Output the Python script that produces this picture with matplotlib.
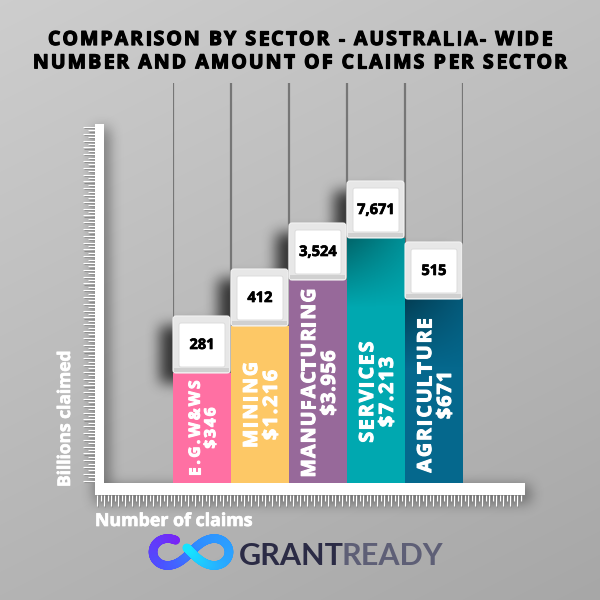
import numpy as np
import matplotlib.pyplot as plt
import matplotlib.patheffects as pe
from matplotlib.patches import FancyBboxPatch, Rectangle
from matplotlib.collections import LineCollection
from matplotlib.textpath import TextToPath
from matplotlib.font_manager import FontProperties
from matplotlib.colors import LinearSegmentedColormap

sectors = ['E.G.W&WS', 'MINING', 'MANUFACTURING', 'SERVICES', 'AGRICULTURE']
amounts = ['$346', '$1.216', '$3.956', '$7.213', '$671']
claims = [281, 412, 3524, 7671, 515]
# the bars are not to scale with the numbers, so keep the drawn height (px)
drawn_height = [110, 157, 203, 245, 184]
bar_colors = ['#ff70a3', '#fdc866', '#97699a', '#00a8b0', '#05688d']

title_lines = ['COMPARISON BY SECTOR - AUSTRALIA- WIDE',
               'NUMBER AND AMOUNT OF CLAIMS PER SECTOR']
y_label = 'Billions claimed'
x_label = 'Number of claims'

DPI = 100
W = H = 600
CAP = 57          # white key on top of every bar
AXIS_Y = 483      # top of the horizontal ruler

fig = plt.figure(figsize=(W / DPI, H / DPI), dpi=DPI)
ax = fig.add_axes([0, 0, 1, 1])
bx = fig.add_axes([173 / W, (H - AXIS_Y) / H, 290 / W, 400 / H])
bx.set_xlim(-0.5, 4.5)
bx.set_ylim(0, 400)
bx.axis('off')

# background, light grey fading darker to the bottom right
yy, xx = np.mgrid[0:H, 0:W] / H
bg = 0.805 - 0.10 * yy - 0.05 * xx
ax.imshow(np.dstack([bg] * 3), extent=(0, W, H, 0), aspect='auto', zorder=0)
ax.set_xlim(0, W)
ax.set_ylim(H, 0)
ax.axis('off')


def to_ax(xd, yd):
    return ax.transData.inverted().transform(bx.transData.transform((xd, yd)))


# ---- letter spaced text
ttp = TextToPath()


def ink_w(ch, fp):
    if ch == ' ':
        return 0.26 * fp.get_size_in_points() * DPI / 72
    return ttp.get_text_width_height_descent(ch, fp, ismath=False)[0] * DPI / 72


def spaced(target, x, y, s, size, gap=0, width=None, rot=0, color='k',
           family='Open Sans', weight='bold', z=10, stroke=0.6):
    fp = FontProperties(family=family, weight=weight, size=size)
    ws = [ink_w(c, fp) for c in s]
    if width is not None:
        gap = (width - sum(ws)) / (len(s) - 1)
    total = sum(ws) + gap * (len(s) - 1)
    pos = -total / 2
    a = np.deg2rad(rot)
    fx = [pe.withStroke(linewidth=stroke, foreground=color)]
    for c, w in zip(s, ws):
        m = pos + w / 2
        if c != ' ':
            target.text(x + m * np.cos(a), y - m * np.sin(a), c, fontproperties=fp,
                        rotation=rot, rotation_mode='anchor', ha='center',
                        va='baseline', color=color, zorder=z, path_effects=fx,
                        transform=ax.transData, clip_on=False)
        pos += w + gap


# ---- cap boxes in full-figure pixel coords
caps = []
for i, h in enumerate(drawn_height):
    x0, ybot = to_ax(i - 0.5, h)
    x1, ytop = to_ax(i + 0.5, h + CAP)
    caps.append((x0, ytop, x1 - 1, ybot))

# soft shadows of the caps and rulers
mask = np.zeros((H, W))


def add_sh(x0, y0, x1, y1, dx, dy, v=1.0):
    r0, r1 = int(round(y0 + dy)), int(round(y1 + dy))
    c0, c1 = int(round(x0 + dx)), int(round(x1 + dx))
    mask[max(r0, 0):r1, max(c0, 0):c1] = np.maximum(mask[max(r0, 0):r1, max(c0, 0):c1], v)


def box_blur(a, r):
    k = 2 * r + 1
    p = np.pad(a, r, mode='edge')
    c = np.vstack([np.zeros((1, p.shape[1])), np.cumsum(p, axis=0)])
    a = (c[k:] - c[:-k]) / k
    c = np.hstack([np.zeros((a.shape[0], 1)), np.cumsum(a, axis=1)])
    return (c[:, k:] - c[:, :-k]) / k


for (x0, y0, x1, y1) in caps:
    add_sh(x0, y0, x1, y1, -13, 10)
add_sh(92, 124, 106, 497, 3, 4, 0.6)
add_sh(92, 481, 527, 497, 3, 5, 0.6)
sh = mask
for _ in range(3):
    sh = box_blur(sh, 6)
shadow = np.zeros((H, W, 4))
shadow[..., 3] = 0.72 * sh
ax.imshow(shadow, extent=(0, W, H, 0), aspect='auto', zorder=1)
ax.set_xlim(0, W)
ax.set_ylim(H, 0)

# ---- title
spaced(ax, 300, 45, title_lines[0], 14, width=504, stroke=0.9)
spaced(ax, 300, 68.3, title_lines[1], 14, width=534, stroke=0.9)

# ---- rulers
ax.add_patch(Rectangle((95, 124), 9, 371, fc='white', ec='none', zorder=4))
ax.add_patch(Rectangle((95, 483), 430, 12, fc='white', ec='none', zorder=4))
ty = np.arange(127, 481, 3.4)
tl = np.where(np.arange(len(ty)) % 2 == 0, 83, 88)
ax.hlines(ty + 1.2, tl + 1.2, 95, color='#8d8d8d', lw=0.8, zorder=3)
ax.hlines(ty, tl, 95, color='white', lw=0.8, zorder=4)
tx = np.arange(97, 523, 3.5)
tb = np.where(np.arange(len(tx)) % 2 == 0, 506, 501)
ax.vlines(tx + 1.2, 495, tb + 1.2, color='#8d8d8d', lw=0.8, zorder=3)
ax.vlines(tx, 495, tb, color='white', lw=0.8, zorder=4)

ax.text(70, 487, y_label, rotation=90, rotation_mode='anchor', ha='left',
        va='baseline', color='white', fontsize=12.5, fontweight='bold',
        family='Open Sans', zorder=5,
        path_effects=[pe.withStroke(linewidth=0.5, foreground='white')])
ax.text(95, 526, x_label, ha='left', va='baseline', color='white',
        fontsize=12.8, fontweight='bold', family='Open Sans', zorder=5,
        path_effects=[pe.withStroke(linewidth=0.5, foreground='white')])

# ---- bars
bx.vlines(np.arange(6) - 0.5, 0, 400, color='#767676', lw=1.6, zorder=1)
bx.bar(range(len(sectors)), drawn_height, width=1.0, color=bar_colors, zorder=2)

# darker sheen at the top of the two right bars
for i in (3, 4):
    g = np.linspace(1, 0, 70)[:, None] * np.linspace(1, 0.35, 40)[None, :]
    sheen = np.zeros((70, 40, 4))
    sheen[..., 3] = 0.4 * g
    bx.imshow(sheen, extent=(i - 0.5, i + 0.5, drawn_height[i] - 70, drawn_height[i]),
              aspect='auto', zorder=3)
bx.set_xlim(-0.5, 4.5)
bx.set_ylim(0, 400)

# caps with the number of claims
for (x0, y0, x1, y1), n in zip(caps, claims):
    outer = FancyBboxPatch((x0, y0), x1 - x0, y1 - y0,
                           boxstyle='round,pad=0,rounding_size=3',
                           fc='#e7e7e7', ec='#f3f3f3', lw=0.8,
                           transform=ax.transData, zorder=5, clip_on=False)
    bx.add_patch(outer)
    bx.add_patch(Rectangle((x0 + 1, y1 - 5), x1 - x0 - 2, 4, fc='#d0d0d0', ec='none',
                           transform=ax.transData, zorder=5, clip_on=False))
    inner = FancyBboxPatch((x0 + 6, y0 + 7), (x1 - x0) - 11, (y1 - y0) - 13,
                           boxstyle='round,pad=0,rounding_size=2',
                           fc='white', ec='#dcdcdc', lw=0.7,
                           transform=ax.transData, zorder=6, clip_on=False)
    bx.add_patch(inner)
    bx.text((x0 + x1) / 2 + 0.5, (y0 + y1) / 2 + 0.5, f'{n:,}', ha='center', va='center',
            fontsize=10.5, fontweight='bold', family='Open Sans', color='black',
            path_effects=[pe.withStroke(linewidth=0.5, foreground='black')],
            transform=ax.transData, zorder=7, clip_on=False)

# rotated sector / amount labels on the bars (centre and length along the bar, px)
label_mid = [428, 405, 383, 392, 395]
sector_len = [95, 86, 189, 101, 155]
amount_len = [41, 70, 65, 70, 48]
label_size = [11, 14, 14, 14, 14]
for i, (sec, amt) in enumerate(zip(sectors, amounts)):
    xc = to_ax(i, 0)[0]
    fpx = label_size[i] * DPI / 72
    cap_h = 0.714 * fpx
    sep = 1.02 * fpx
    spaced(bx, xc - sep / 2 + cap_h / 2, label_mid[i], sec, label_size[i],
           width=sector_len[i], rot=90, color='white', stroke=0.8)
    spaced(bx, xc + sep / 2 + cap_h / 2, label_mid[i], amt, label_size[i],
           width=amount_len[i], rot=90, color='white', stroke=0.8)

# ---- GrantReady logo
t = np.linspace(0.72 * np.pi, 2.5 * np.pi + 0.22, 400)
den = 1 + np.sin(t) ** 2
lx = 191 + 38 * np.cos(t) / den
ly = 552 + 38 * np.sin(t) * np.cos(t) / den
pts = np.column_stack([lx, ly]).reshape(-1, 1, 2)
segs = np.concatenate([pts[:-1], pts[1:]], axis=1)
cmap = LinearSegmentedColormap.from_list('gr', ['#7a22f6', '#4a55ff', '#2f8cff', '#2aa6ff', '#16e4ff'])
lc = LineCollection(segs, colors=cmap(np.linspace(0, 1, len(segs))), lw=6.2,
                    capstyle='round', zorder=5)
ax.add_collection(lc)

g1 = ax.text(239, 565, 'GRANT', ha='left', va='baseline', color='#2b2b45',
             fontsize=22, fontweight='bold', family='Lato', zorder=5)
r = fig.canvas.get_renderer()
bb = g1.get_window_extent(r)
ax.text(bb.x1 - 2, 565, 'READY', ha='left', va='baseline', color='#5e5f76',
        fontsize=22, fontweight='bold', family='Lato', zorder=5)

fig.savefig('out.png', dpi=DPI)
